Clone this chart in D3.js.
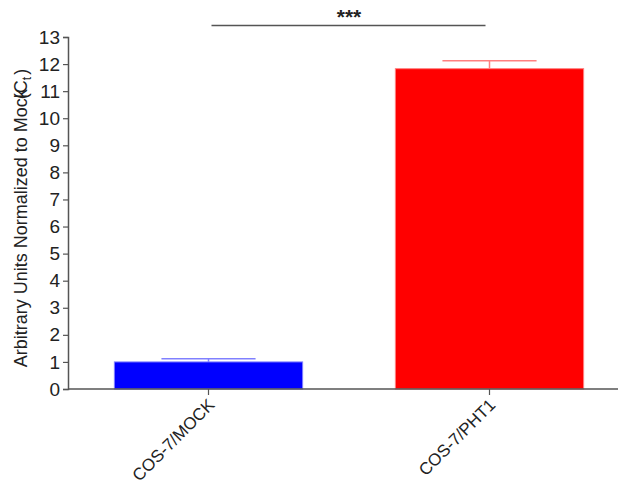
<!DOCTYPE html>
<html>
<head>
<meta charset="utf-8">
<script src="https://cdn.jsdelivr.net/npm/d3@7"></script>
<style>
  body { margin: 0; background: #fff; }
  text { font-family: "Liberation Sans", Arial, sans-serif; }
</style>
</head>
<body>
<div id="chart"></div>
<script>
// data
var groups = ["COS-7/MOCK", "COS-7/PHT1"];
var means = [1.0, 11.83];
var errs = [0.12, 0.29];
var fills = ["#0000ff", "#ff0000"];
var edges = ["#8080ff", "#ff8080"];
var yTicks = d3.range(0, 14);

var W = 618, H = 485;
var svg = d3.select("#chart").append("svg").attr("width", W).attr("height", H);

var x0 = 68, yBottom = 389, yTop = 37;
var y = d3.scaleLinear().domain([0, 13]).range([yBottom, yTop]);
var x = d3.scaleBand().domain(groups).range([x0, x0 + 562]).paddingInner(0.33).paddingOuter(0.165);

// bars
svg.selectAll(".bar").data(groups).enter().append("rect")
  .attr("x", function(d) { return x(d); })
  .attr("y", function(d, i) { return y(means[i]); })
  .attr("width", x.bandwidth())
  .attr("height", function(d, i) { return yBottom - y(means[i]); })
  .style("fill", function(d, i) { return fills[i]; })
  .style("stroke", function(d, i) { return edges[i]; })
  .style("stroke-width", 1);

// error bars (upper only)
groups.forEach(function(g, i) {
  var cx = x(g) + x.bandwidth() / 2;
  var capW = x.bandwidth() / 2;
  svg.append("line")
    .attr("x1", cx).attr("x2", cx)
    .attr("y1", y(means[i])).attr("y2", y(means[i] + errs[i]))
    .style("stroke", edges[i]).style("stroke-width", 1.5);
  svg.append("line")
    .attr("x1", cx - capW / 2).attr("x2", cx + capW / 2)
    .attr("y1", y(means[i] + errs[i])).attr("y2", y(means[i] + errs[i]))
    .style("stroke", edges[i]).style("stroke-width", 1.5);
});

// y axis
var yAxis = svg.append("g").attr("transform", "translate(" + x0 + ",0)")
  .call(d3.axisLeft(y).tickValues(yTicks).tickSize(5).tickPadding(3).tickFormat(d3.format("d")));
yAxis.select(".domain").style("stroke", "#555").style("stroke-width", 1.5);
yAxis.selectAll(".tick line").style("stroke", "#555").style("stroke-width", 1.2);
yAxis.selectAll(".tick text").style("font-size", "19px").style("fill", "#222")
  .style("font-family", "Liberation Sans, Arial, sans-serif");

// x axis
svg.append("line")
  .attr("x1", x0).attr("x2", W)
  .attr("y1", yBottom).attr("y2", yBottom)
  .style("stroke", "#555").style("stroke-width", 1.5);
groups.forEach(function(g) {
  var cx = x(g) + x.bandwidth() / 2;
  svg.append("line")
    .attr("x1", cx).attr("x2", cx)
    .attr("y1", yBottom).attr("y2", yBottom + 6)
    .style("stroke", "#555").style("stroke-width", 1.2);
  svg.append("text")
    .attr("transform", "translate(" + (cx + 7) + "," + (yBottom + 17) + ") rotate(-45)")
    .attr("text-anchor", "end")
    .style("font-size", "17px").style("fill", "#222")
    .text(g);
});

// y label
var lab = svg.append("text")
  .attr("transform", "translate(27,218) rotate(-90)")
  .attr("text-anchor", "middle")
  .style("font-size", "18px").style("fill", "#222");
lab.append("tspan").text("Arbitrary Units Normalized to Mock");
lab.append("tspan").attr("dx", -10).text("(C");
lab.append("tspan").attr("dy", 4).style("font-size", "12px").text("t");
lab.append("tspan").attr("dy", -4).attr("dx", 2).text(")");

// significance bracket
var xa = x(groups[0]) + x.bandwidth() / 2, xb = x(groups[1]) + x.bandwidth() / 2;
svg.append("line")
  .attr("x1", xa + 3).attr("x2", xb - 4)
  .attr("y1", 25.5).attr("y2", 25.5)
  .style("stroke", "#555").style("stroke-width", 1.5);
svg.append("text")
  .attr("x", (xa + xb) / 2).attr("y", 24)
  .attr("text-anchor", "middle")
  .style("font-size", "21px").style("font-weight", "bold").style("fill", "#222")
  .text("***");
</script>
</body>
</html>
